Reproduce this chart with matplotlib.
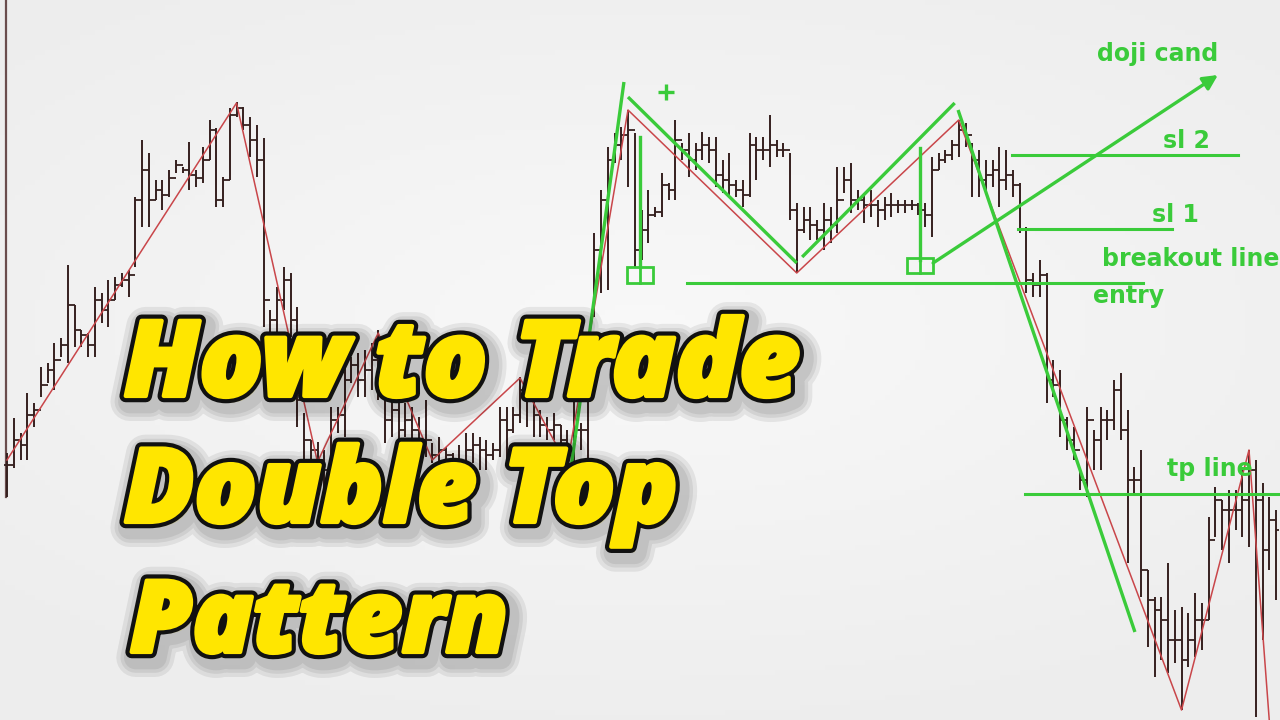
import numpy as np
import matplotlib
matplotlib.use("Agg")
import matplotlib.pyplot as plt
import matplotlib.patheffects as pe
from matplotlib.patches import Rectangle

# ---- OHLC bars (price units, one bar per index) ----
highs = [267, 302, 287, 327, 317, 353, 357, 377, 382, 455,
         415, 390, 387, 433, 427, 440, 443, 447, 450, 523,
         580, 567, 540, 540, 550, 560, 553, 578, 550, 573,
         600, 592, 543, 612, 618, 613, 603, 595, 582, 410,
         433, 453, 447, 413, 307, 280, 278, 270, 313, 313,
         353, 363, 367, 370, 377, 390, 323, 320, 317, 317,
         313, 303, 320, 277, 283, 273, 267, 275, 287, 287,
         283, 280, 277, 313, 313, 313, 343, 333, 323, 310,
         303, 307, 295, 290, 320, 297, 340, 487, 530, 573,
         587, 593, 610, 587, 510, 530, 513, 547, 537, 600,
         577, 587, 577, 588, 583, 583, 560, 567, 540, 540,
         587, 583, 583, 605, 580, 577, 567, 517, 513, 513,
         500, 517, 513, 553, 553, 557, 530, 527, 530, 520,
         523, 527, 520, 520, 520, 517, 517, 563, 567, 570,
         580, 600, 597, 577, 570, 560, 560, 573, 570, 550,
         537, 493, 447, 460, 447, 360, 350, 303, 293, 250,
         313, 290, 313, 310, 340, 347, 310, 253, 270, 150,
         123, 123, 157, 110, 113, 107, 127, 117, 203, 233,
         220, 230, 230, 253, 270, 260, 237, 223, 210]
lows = [223, 252, 260, 260, 293, 323, 337, 330, 363, 357,
        373, 373, 363, 363, 397, 393, 420, 433, 423, 453,
        493, 493, 520, 510, 523, 547, 547, 530, 533, 537,
        560, 513, 513, 540, 603, 590, 563, 543, 393, 387,
        387, 410, 383, 293, 257, 253, 243, 227, 263, 287,
        283, 337, 323, 323, 330, 320, 277, 283, 273, 283,
        270, 270, 263, 257, 253, 257, 250, 245, 237, 257,
        250, 250, 260, 263, 253, 287, 297, 293, 283, 283,
        280, 280, 260, 250, 253, 270, 210, 403, 427, 430,
        557, 560, 533, 453, 460, 477, 503, 503, 520, 520,
        560, 543, 550, 560, 557, 533, 527, 523, 523, 513,
        523, 540, 560, 553, 563, 563, 500, 447, 487, 480,
        480, 470, 477, 487, 527, 507, 510, 497, 503, 493,
        500, 503, 507, 507, 510, 505, 493, 483, 550, 557,
        560, 563, 573, 523, 523, 530, 533, 513, 530, 523,
        487, 427, 423, 423, 317, 323, 283, 270, 260, 230,
        223, 250, 250, 280, 290, 280, 157, 227, 123, 73,
        43, 60, 47, 57, 10, 53, 63, 70, 100, 183,
        170, 157, 190, 183, 173, 3, 80, 150, 120]
closes = [255, 280, 275, 305, 310, 335, 350, 360, 375, 415,
          390, 385, 375, 420, 410, 420, 435, 440, 445, 520,
          550, 520, 530, 525, 542, 555, 550, 545, 542, 560,
          590, 520, 540, 605, 612, 595, 580, 560, 420, 400,
          420, 440, 400, 320, 280, 270, 260, 250, 300, 305,
          340, 355, 340, 350, 360, 380, 300, 310, 290, 300,
          290, 280, 280, 265, 270, 265, 260, 255, 270, 275,
          270, 265, 270, 300, 290, 305, 330, 320, 305, 295,
          290, 295, 280, 270, 290, 290, 330, 470, 520, 560,
          575, 585, 590, 470, 490, 505, 508, 535, 530, 580,
          570, 560, 570, 575, 570, 545, 540, 535, 530, 525,
          575, 570, 570, 575, 570, 570, 510, 490, 500, 495,
          490, 500, 495, 520, 540, 520, 520, 515, 515, 510,
          515, 515, 515, 515, 515, 510, 505, 550, 560, 565,
          575, 590, 585, 560, 540, 545, 550, 540, 545, 535,
          490, 440, 435, 445, 340, 335, 300, 280, 270, 240,
          300, 280, 300, 300, 330, 290, 240, 240, 150, 120,
          110, 100, 80, 80, 60, 80, 100, 100, 180, 220,
          210, 210, 210, 220, 250, 220, 170, 200, 190]
opens = [closes[0]] + closes[:-1]

# ---- zigzag indicator (red) ----
zz_idx = [0, 34, 46, 55, 63, 76, 83, 92, 117, 141, 174, 184, 187]
zz_price = [260, 617, 258, 387, 260, 342, 255, 610, 447, 600, 10, 270, 0]

# ---- hand drawn green annotations (bar index, price) ----
swing_lines = [((82.7, 210), (91.4, 638)),
               ((92.0, 623), (117.0, 457)),
               ((117.8, 463), (140.4, 617)),
               ((140.9, 610), (167.1, 88))]
doji_marks = [(93.8, 453, 583), (135.3, 460, 572)]   # x, bottom, top of stem
doji_boxes = [(91.9, 95.7, 437, 453), (133.3, 137.2, 447, 462)]
plus_mark = (97.6, 628)
levels = {"breakout": (100.7, 168.3, 437),
          "sl2": (148.9, 182.4, 565),
          "sl1": (149.8, 172.6, 491),
          "tp": (150.8, 188.6, 226)}
arrow_start = (137.2, 457)
arrow_end = (179.4, 645)
labels = [("doji cand", 161.5, 659), ("sl 2", 171.3, 572), ("sl 1", 169.6, 498),
          ("breakout line", 162.2, 454), ("entry", 160.9, 417), ("tp line", 171.9, 244)]

title_lines = ["How to Trade", "Double Top", "Pattern"]

GREEN = "#3acb3a"
BAR = "#35201f"
RED = "#c9464a"

fig = plt.figure(figsize=(12.8, 7.2), dpi=100)
ax = fig.add_axes([0, 0, 1, 1])
ax.set_xlim(-7 / 6.75, (1280 - 7) / 6.75)
ax.set_ylim(0, 720)
ax.axis("off")

# soft grey background, a little lighter in the middle
gx, gy = np.meshgrid(np.linspace(-1, 1, 256), np.linspace(-1, 1, 144))
shade = 0.975 - 0.035 * np.clip(np.sqrt((gx * 0.9) ** 2 + (gy * 1.1 + 0.1) ** 2), 0, 1.3)
ax.imshow(np.dstack([shade] * 3), extent=(*ax.get_xlim(), 0, 720), aspect="auto", zorder=0)

# chart edge at the left
ax.plot([-0.15, -0.15], [223, 720], color="#6a4d4d", lw=1.6, zorder=1)

x = np.arange(len(highs))
ax.vlines(x, lows, highs, color=BAR, lw=1.4, zorder=2)
ax.hlines(opens, x - 0.5, x, color=BAR, lw=1.3, zorder=2)
ax.hlines(closes, x, x + 0.5, color=BAR, lw=1.3, zorder=2)

ax.plot(zz_idx, zz_price, color=RED, lw=1.1, zorder=3)

for (x0, y0), (x1, y1) in swing_lines:
    ax.plot([x0, x1], [y0, y1], color=GREEN, lw=2.4, solid_capstyle="butt", zorder=4)
for xs, yb, yt in doji_marks:
    ax.plot([xs, xs], [yb, yt], color=GREEN, lw=2.4, zorder=4)
for x0, x1, y0, y1 in doji_boxes:
    ax.add_patch(Rectangle((x0, y0), x1 - x0, y1 - y0, fill=False, ec=GREEN, lw=2.0, zorder=4))
    ax.plot([(x0 + x1) / 2] * 2, [y0, y1], color=GREEN, lw=2.0, zorder=4)
ax.plot(*plus_mark, marker="+", ms=11, mew=2.4, color=GREEN, zorder=4)
for x0, x1, yl in levels.values():
    ax.plot([x0, x1], [yl, yl], color=GREEN, lw=2.2, zorder=4)
ax.annotate("", xy=arrow_end, xytext=arrow_start,
            arrowprops=dict(arrowstyle="-|>", color=GREEN, lw=2.4, mutation_scale=22,
                            shrinkA=0, shrinkB=0), zorder=4)
for txt, lx, ly in labels:
    ax.text(lx, ly, txt, color=GREEN, fontsize=17, fontweight="bold",
            family="DejaVu Sans", ha="left", va="baseline", zorder=5)

# big title: soft grey glow, black outline, glyphs fattened with a yellow stroke
YELLOW = "#ffe600"
title_fx = [pe.Stroke(linewidth=lw, foreground="black", alpha=0.07, offset=(3, -4))
            for lw in (28, 22, 17)]
title_fx += [pe.Stroke(linewidth=9, foreground="#111111"),
             pe.Stroke(linewidth=3, foreground=YELLOW), pe.Normal()]
spots = [(124, 800, 396), (124, 678, 522), (130, 508, 652)]  # left, right, baseline in px
renderer = fig.canvas.get_renderer()
for line, (left, right, base) in zip(title_lines, spots):
    t = fig.text(left / 1280, 1 - base / 720, line, color=YELLOW, fontsize=80,
                 family="Open Sans", fontweight=800, style="italic",
                 ha="left", va="baseline", zorder=10, path_effects=title_fx)
    for _ in range(2):
        w = t.get_window_extent(renderer).width
        t.set_fontsize(t.get_fontsize() * (right - left) / w)

fig.savefig("out.png", dpi=100)
